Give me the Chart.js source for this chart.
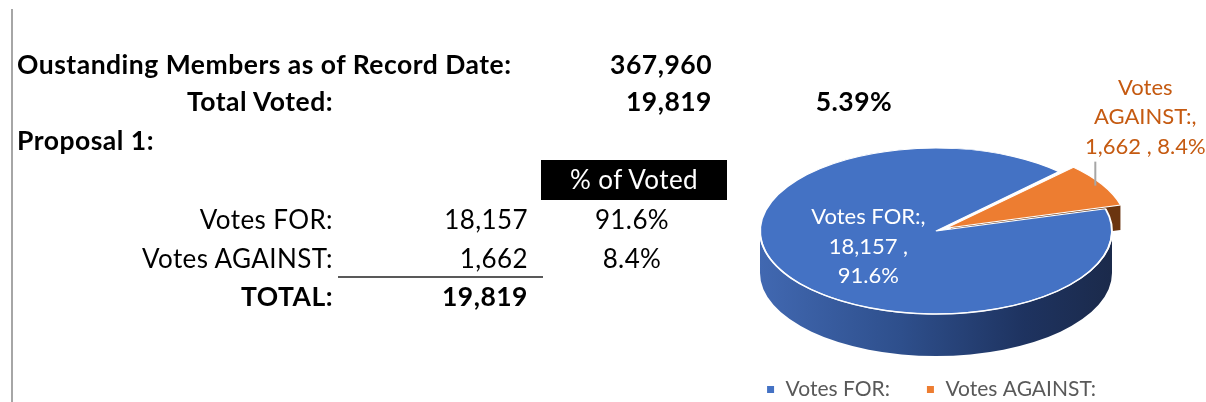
<!DOCTYPE html>
<html>
<head>
<meta charset="utf-8">
<script src="https://cdn.jsdelivr.net/npm/chart.js@4.4.1/dist/chart.umd.min.js"></script>
<style>
html, body { margin: 0; padding: 0; background: #fff; }
#wrap { position: relative; width: 1206px; height: 402px; overflow: hidden; }
#pie { position: absolute; left: 0; top: 0; }
.t { position: absolute; white-space: nowrap; }
#rule { position: absolute; left: 11px; top: 9px; width: 2px; height: 400px; background: #a6a6a6; }
#head { position: absolute; left: 541px; top: 160px; width: 186px; height: 40px; background: #000; }
#sum { position: absolute; left: 338px; top: 276px; width: 205px; height: 2px; background: #595959; }
</style>
</head>
<body>
<div id="wrap">
  <div id="rule"></div>
  <div id="head"></div>
  <div id="sum"></div>
  <canvas id="pie" width="1206" height="402"></canvas>
</div>
<script>
// data
const categories = ['Votes FOR:', 'Votes AGAINST:'];
const votes = [18157, 1662];
const outstandingMembers = 367960;
const totalVoted = 19819;
const sliceColors = ['#4472C4', '#ED7D31'];
const labelColors = ['#ffffff', '#C55A11'];

const fmt = n => n.toLocaleString('en-US');
const pct = votes.map(v => (v / totalVoted * 100).toFixed(1) + '%');
const turnout = (totalVoted / outstandingMembers * 100).toFixed(2) + '%';

// left table, plain html text
const wrap = document.getElementById('wrap');
function put(text, x, base, o = {}) {
    const el = document.createElement('div');
    const size = o.bold ? 26.5 : 26;
    el.className = 't';
    el.textContent = text;
    el.style.font = (o.bold ? '700 ' : '400 ') + size + 'px Lato, sans-serif';
    el.style.lineHeight = size + 'px';
    el.style.letterSpacing = o.bold ? '0.5px' : '0.4px';
    el.style.left = x + 'px';
    el.style.top = (base - 0.887 * size) + 'px';
    el.style.color = o.color || '#000';
    if (o.align == 'right') el.style.transform = 'translateX(-100%)';
    if (o.align == 'center') el.style.transform = 'translateX(-50%)';
    wrap.appendChild(el);
}

put('Oustanding Members as of Record Date:', 17, 75, {bold: true});
put(fmt(outstandingMembers), 712, 75, {bold: true, align: 'right'});
put('Total Voted:', 333, 112, {bold: true, align: 'right'});
put(fmt(totalVoted), 712, 112, {bold: true, align: 'right'});
put(turnout, 854, 112, {bold: true, align: 'center'});
put('Proposal 1:', 17, 151, {bold: true});
put('% of Voted', 634, 189, {align: 'center', color: '#fff'});
categories.forEach((c, i) => {
    const base = 229 + i * 39;
    put(c, 333, base, {align: 'right'});
    put(fmt(votes[i]), 528, base, {align: 'right'});
    put(pct[i], 632, base, {align: 'center'});
});
put('TOTAL:', 333, 307, {bold: true, align: 'right'});
put(fmt(votes.reduce((a, b) => a + b, 0)), 528, 307, {bold: true, align: 'right'});

// fake 3d pie: squash the chart's pie and paint a side wall under it
const CX = 936, CY = 231, TILT = 83 / 176, DEPTH = 42;

const shiftOf = arc => {
    const half = (arc.startAngle + arc.endAngle) / 2;
    const off = (arc.options.offset || 0) / 4;
    const fix = 1 - Math.sin(Math.min(Math.PI, arc.circumference || 0));
    const k = off * (1 + fix);
    return [Math.cos(half) * k, Math.sin(half) * k];
};

const pie3d = {
    id: 'pie3d',
    beforeDatasetsDraw(chart) {
        const ctx = chart.ctx;
        const arcs = chart.getDatasetMeta(0).data;
        const {x, y} = arcs[0];
        const d = DEPTH / TILT;
        ctx.save();
        ctx.translate(CX, CY);
        ctx.scale(1, TILT);
        ctx.translate(-x, -y);

        // cut face at the end of each exploded slice
        arcs.forEach(arc => {
            if (!arc.options.offset) return;
            const [ox, oy] = shiftOf(arc);
            const r = arc.outerRadius, e = arc.endAngle;
            const cx = x + ox, cy = y + oy;
            ctx.beginPath();
            ctx.moveTo(cx, cy);
            ctx.lineTo(cx + r * Math.cos(e), cy + r * Math.sin(e));
            ctx.lineTo(cx + r * Math.cos(e), cy + r * Math.sin(e) + d * 0.6);
            ctx.lineTo(cx, cy + d * 0.6);
            ctx.closePath();
            ctx.fillStyle = '#6b3510';
            ctx.fill();
        });

        // front wall
        arcs.forEach((arc, i) => {
            const [ox, oy] = shiftOf(arc);
            const r = arc.outerRadius;
            const cx = x + ox, cy = y + oy;
            [0, 2 * Math.PI].forEach(base => {
                const a1 = Math.max(arc.startAngle, base);
                const a2 = Math.min(arc.endAngle, base + Math.PI);
                if (a2 <= a1) return;
                const g = ctx.createLinearGradient(cx - r, 0, cx + r, 0);
                if (i == 0) {
                    g.addColorStop(0, '#4168b1');
                    g.addColorStop(0.4, '#2e4f8c');
                    g.addColorStop(0.75, '#1e3360');
                    g.addColorStop(1, '#1b2a4b');
                } else {
                    g.addColorStop(0, '#b05a20');
                    g.addColorStop(1, '#6b3510');
                }
                ctx.beginPath();
                ctx.arc(cx, cy, r, a1, a2);
                ctx.lineTo(cx + r * Math.cos(a2), cy + r * Math.sin(a2) + d);
                ctx.arc(cx, cy + d, r, a2, a1, true);
                ctx.closePath();
                ctx.fillStyle = g;
                ctx.fill();
            });
        });
    },
    afterDatasetsDraw(chart) {
        const ctx = chart.ctx;
        ctx.restore();
        // light rim between top and wall
        const r = chart.getDatasetMeta(0).data[0].outerRadius;
        ctx.save();
        ctx.beginPath();
        ctx.ellipse(CX, CY, r, r * TILT, 0, 0.02, Math.PI - 0.02);
        ctx.strokeStyle = 'rgba(255,255,255,0.9)';
        ctx.lineWidth = 1.5;
        ctx.stroke();
        ctx.restore();
    }
};

// data labels, placed from the arcs
const sliceLabels = {
    id: 'sliceLabels',
    afterDatasetsDraw(chart) {
        const ctx = chart.ctx;
        const arcs = chart.getDatasetMeta(0).data;
        const {x, y} = arcs[0];
        const toScreen = (px, py) => [CX + (px - x), CY + (py - y) * TILT];
        ctx.save();
        ctx.font = '400 22px Lato, sans-serif';
        ctx.textAlign = 'center';
        ctx.textBaseline = 'middle';
        arcs.forEach((arc, i) => {
            const words = (categories[i] + ', ' + fmt(votes[i]) + ' , ' + pct[i]).split(' ');
            const maxW = i == 0 ? 124 : 136;
            const lines = [];
            let cur = '';
            words.forEach(w => {
                const t = cur ? cur + ' ' + w : w;
                if (cur && ctx.measureText(t).width > maxW) { lines.push(cur); cur = w; }
                else cur = t;
            });
            lines.push(cur);
            const half = (arc.startAngle + arc.endAngle) / 2;
            const [ox, oy] = shiftOf(arc);
            const lh = 29.5;
            ctx.fillStyle = labelColors[i];
            if (i == 0) {
                const rr = arc.outerRadius * 0.42;
                const [sx, sy] = toScreen(x + ox + Math.cos(half) * rr, y + oy + Math.sin(half) * rr);
                lines.forEach((l, j) => ctx.fillText(l, sx - 4, sy - 2 + (j - (lines.length - 1) / 2) * lh));
            } else {
                const rr = arc.outerRadius;
                const [sx, sy] = toScreen(x + ox + Math.cos(half) * rr, y + oy + Math.sin(half) * rr);
                const lx = sx - 7;
                ctx.beginPath();
                ctx.moveTo(lx, sy + 1);
                ctx.lineTo(lx, sy - 23);
                ctx.strokeStyle = '#a6a6a6';
                ctx.lineWidth = 2;
                ctx.stroke();
                const bottom = sy - 38;
                lines.forEach((l, j) => ctx.fillText(l, lx + 50, bottom - (lines.length - 1 - j) * lh));
            }
        });
        ctx.restore();
    }
};

new Chart(document.getElementById('pie'), {
    type: 'pie',
    data: {
        labels: categories,
        datasets: [{
            data: votes,
            backgroundColor: sliceColors,
            borderColor: '#ffffff',
            borderWidth: 2,
            offset: [0, 46],
            radius: 176,
            rotation: 74.5,
            clip: false
        }]
    },
    options: {
        responsive: false,
        animation: false,
        layout: { padding: { left: 694, right: 38, top: 20, bottom: -8 } },
        plugins: {
            tooltip: { enabled: false },
            legend: {
                position: 'bottom',
                fullSize: false,
                labels: {
                    color: '#595959',
                    font: { family: 'Lato', size: 21 },
                    boxWidth: 9,
                    boxHeight: 9,
                    padding: 36
                }
            }
        }
    },
    plugins: [pie3d, sliceLabels]
});
</script>
</body>
</html>
